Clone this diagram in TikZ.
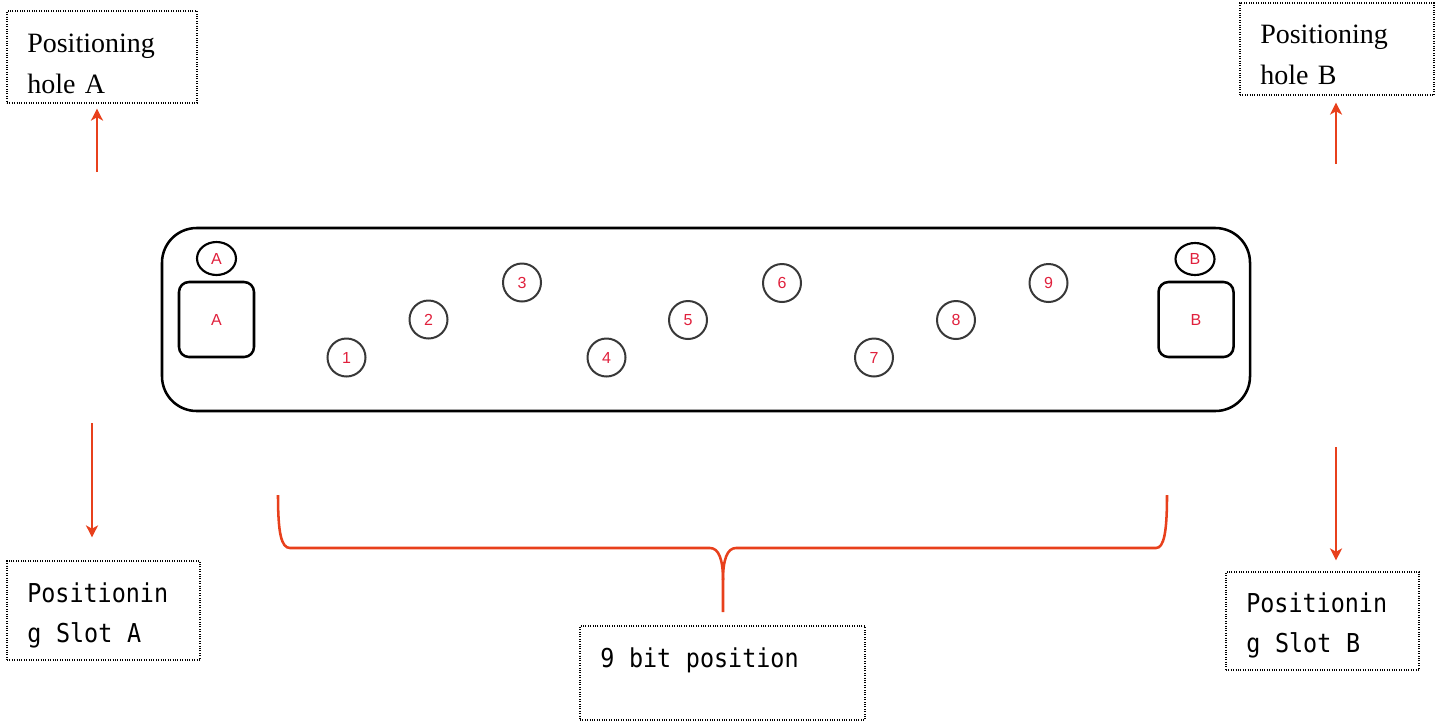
\documentclass[tikz,border=0pt]{standalone}
\usepackage{fontspec}
\setmainfont{Liberation Serif}
\newfontfamily\slotfont[FakeStretch=0.9]{DejaVu Sans Mono}
\newfontfamily\markfont{Liberation Sans}
\newcommand\slotsetup{\slotfont\fontsize{19.5}{30.5}\selectfont}
\newcommand\mgap{\hspace*{11pt}}
\usetikzlibrary{arrows.meta,shapes.geometric}
\definecolor{arr}{HTML}{E8401C}
\definecolor{lbl}{HTML}{E0203C}
\definecolor{ring}{HTML}{383838}
\tikzset{
  dotbox/.style={draw=black, line width=0.9pt, dash pattern=on 0.75pt off 1.05pt, inner sep=0pt},
  serifline/.style={anchor=base west, inner sep=0pt, font=\fontsize{21}{30.75}\selectfont, text width=150pt, align=left},
  monoline/.style={anchor=base west, inner sep=0pt, font=\slotsetup, text width=200pt, align=left},
  redarrow/.style={draw=arr, line width=1.5pt, -{Stealth[length=9pt,width=9pt,inset=2.5pt]}},
  bit/.style={circle, draw=ring, line width=1.5pt, minimum size=28.5pt, inner sep=0pt, text=lbl, font=\markfont\fontsize{12}{14}\selectfont},
  hole/.style={ellipse, draw=black, line width=1.6pt, minimum width=29.25pt, inner sep=0pt, text=lbl, font=\markfont\fontsize{12}{14}\selectfont},
  slotsq/.style={rectangle, draw=black, line width=1.9pt, rounded corners=7.5pt, minimum size=56.25pt, inner sep=0pt, text=lbl, font=\markfont\fontsize{12}{14}\selectfont},
  bracepath/.style={draw=arr, line width=1.9pt}
}
\begin{document}
\begin{tikzpicture}[x=0.75pt,y=-0.75pt]
\useasboundingbox (0,0) rectangle (1441,722);

% label boxes
\node[dotbox, minimum width=142.5pt, minimum height=69pt] (hA) at (102,57) {};
\node[serifline] (hAt) at (27,52) {Positioning\\hole A};
\node[dotbox, minimum width=145.5pt, minimum height=69pt] (hB) at (1337,49) {};
\node[serifline] (hBt) at (1260,43) {Positioning\\hole B};
\node[dotbox, minimum width=144.75pt, minimum height=74.25pt] (sA) at (103.5,610.5) {};
\node[monoline] (sAt) at (27,602) {Positionin\\g\mgap Slot\mgap A};
\node[dotbox, minimum width=144.75pt, minimum height=73.5pt] (sB) at (1322.5,621) {};
\node[monoline] (sBt) at (1246,612) {Positionin\\g\mgap Slot\mgap B};
\node[dotbox, minimum width=213.75pt, minimum height=70.5pt] (nine) at (722.5,673) {};
\node[monoline] (ninet) at (600,667) {9\mgap bit\mgap position};

% plate
\draw[line width=1.9pt, rounded corners=26pt] (162,228) rectangle (1250,411);
\node[hole, minimum height=24.75pt] (cA) at (216.5,258.5) {A};
\node[hole, minimum height=24pt] (cB) at (1195,259) {B};
\node[slotsq] (qA) at (216.5,319.5) {A};
\node[slotsq] (qB) at (1196,319.5) {B};

\node[bit] (b1) at (346.5,357.5) {1};
\node[bit] (b2) at (428.5,319.5) {2};
\node[bit] (b3) at (522,282.5) {3};
\node[bit] (b4) at (606.5,357.5) {4};
\node[bit] (b5) at (688,320) {5};
\node[bit] (b6) at (782,283) {6};
\node[bit] (b7) at (874,357.5) {7};
\node[bit] (b8) at (956,320) {8};
\node[bit] (b9) at (1048.5,283) {9};

% arrows
\coordinate (tA) at (97,172);
\coordinate (tB) at (1336,164);
\coordinate (tsA) at (92,423);
\coordinate (tsB) at (1336,447);
\draw[redarrow, shorten >=3.75pt] (tA) -- (tA |- hA.south);
\draw[redarrow, shorten >=5.25pt] (tB) -- (tB |- hB.south);
\draw[redarrow, shorten >=17.25pt] (tsA) -- (tsA |- sA.north);
\draw[redarrow, shorten >=8.25pt] (tsB) -- (tsB |- sB.north);

% brace
\coordinate (brL) at (278,495);
\coordinate (brR) at (1167,495);
\coordinate (brTip) at (723,612);
\draw[bracepath] (brL) .. controls (278,532) and (281,548) .. (290,548) -- (710,548)
  .. controls (719,548) and (723,560) .. (723,580) -- (brTip);
\draw[bracepath] (brR) .. controls (1167,532) and (1164,548) .. (1156,548) -- (736,548)
  .. controls (727,548) and (723,560) .. (723,580);
\end{tikzpicture}
\end{document}
